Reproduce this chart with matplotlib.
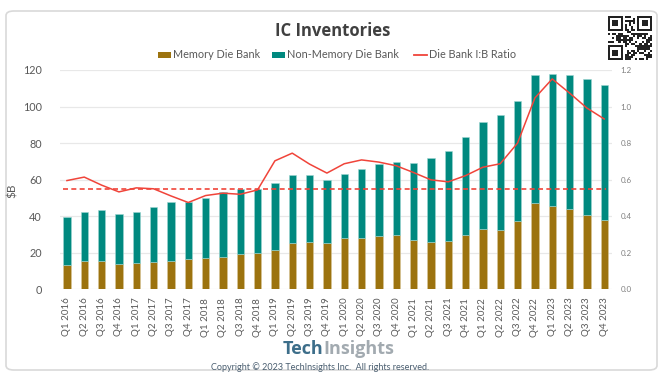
import matplotlib
matplotlib.use("Agg")
import matplotlib.pyplot as plt
from matplotlib.patches import FancyBboxPatch, Rectangle
import numpy as np

plt.rcParams['font.family'] = ['Lato', 'DejaVu Sans']

quarters = [f"Q{q} {y}" for y in range(2016, 2024) for q in range(1, 5)]
memory = [13.1, 15.3, 15.7, 14.0, 14.6, 15.0, 15.7, 16.4, 17.1, 17.9, 19.2, 19.7,
          21.5, 25.5, 26.1, 25.2, 28.1, 28.1, 29.4, 29.8, 27.0, 26.1, 26.6, 29.6,
          32.9, 32.7, 37.3, 47.3, 45.6, 44.0, 40.5, 38.1]
total = [39.8, 42.5, 43.5, 41.3, 42.5, 45.0, 47.6, 47.6, 50.2, 53.5, 55.1, 54.8,
         57.9, 62.8, 62.5, 59.9, 63.0, 65.7, 68.3, 69.9, 69.2, 71.6, 75.9, 83.6,
         91.5, 95.3, 103.0, 117.0, 117.8, 117.0, 115.0, 111.8]
non_memory = [t - m for t, m in zip(total, memory)]
ratio = [0.595, 0.614, 0.570, 0.533, 0.555, 0.550, 0.511, 0.475, 0.513, 0.526, 0.520, 0.544,
         0.703, 0.745, 0.685, 0.636, 0.687, 0.708, 0.696, 0.676, 0.639, 0.599, 0.588, 0.622,
         0.668, 0.687, 0.800, 1.047, 1.151, 1.074, 0.992, 0.932]
ratio_avg = 0.55

C_MEM = "#9C730F"
C_NON = "#00897F"
C_LINE = "#F0443A"
C_TXT = "#595959"

W, H = 663, 378
fig = plt.figure(figsize=(W / 100, H / 100), dpi=100)
fig.patch.set_facecolor("white")

# outer card
card = FancyBboxPatch((6 / W, 1 - 370 / H), 651 / W, 359 / H,
                      boxstyle="round,pad=0,rounding_size=0.012",
                      transform=fig.transFigure, fc="white", ec="#D9D9D9", lw=1.2,
                      zorder=-10)
fig.patches.append(card)

ax = fig.add_axes([60 / W, 1 - 289.3 / H, (612 - 60) / W, (289.3 - 70) / H])
ax.patch.set_alpha(0)
x = np.arange(len(quarters))
bw = 0.42
ax.bar(x, memory, width=bw, color=C_MEM, edgecolor="#D8C89A", linewidth=0.4, zorder=2,
       label="Memory Die Bank")
ax.bar(x, non_memory, width=bw, bottom=memory, color=C_NON, edgecolor="#9FD6D2",
       linewidth=0.4, zorder=2, label="Non-Memory Die Bank")
ax.set_xlim(-0.4, 31.45)
ax.set_ylim(0, 120)
ax.set_yticks(range(0, 121, 20))
ax.grid(axis="y", color="#E8E8E8", lw=0.9, zorder=0)
ax.set_axisbelow(True)
for s in ax.spines.values():
    s.set_visible(False)
ax.tick_params(axis="both", length=0)
ax.tick_params(axis="y", labelsize=7.8, labelcolor=C_TXT, pad=13)
ax.set_xticks(x)
ax.set_xticklabels(quarters, rotation=90, fontsize=7, color=C_TXT)
ax.tick_params(axis="x", pad=6)
ax.set_ylabel("$B", fontsize=8.5, color=C_TXT)
ax.yaxis.set_label_coords(-(60 - 18) / (612 - 60), 0.45)

ax2 = ax.twinx()
ax2.set_ylim(0, 1.2)
ax2.set_yticks(np.arange(0, 1.21, 0.2))
ax2.set_yticklabels([f"{v:.1f}" for v in np.arange(0, 1.21, 0.2)])
ax2.tick_params(axis="y", length=0, labelsize=5.8, labelcolor="#808080", pad=6)
for s in ax2.spines.values():
    s.set_visible(False)
ax2.plot(x, ratio, color=C_LINE, lw=1.1, zorder=3, label="Die Bank I:B Ratio")
ax2.plot([x[0] - 0.2, x[-1] + 0.1], [ratio_avg, ratio_avg], color=C_LINE, lw=1.2,
         ls=(0, (3, 2)), zorder=3)

# title
fig.text(333 / W, 1 - 31 / H, "IC Inventories", ha="center", va="center",
         fontsize=12, fontweight="bold", color="#404040", family="Open Sans")

# legend
ly = 1 - 55 / H
items = [(158, "Memory Die Bank", C_MEM, "patch"),
         (272, "Non-Memory Die Bank", C_NON, "patch"),
         (414, "Die Bank I:B Ratio", C_LINE, "line")]
for lx, lab, col, kind in items:
    if kind == "patch":
        fig.patches.append(Rectangle((lx / W, ly - 3 / H), 13 / W, 6 / H,
                                     transform=fig.transFigure, fc=col, ec="none"))
    else:
        fig.lines.append(plt.Line2D([lx / W, (lx + 13) / W], [ly, ly],
                                    transform=fig.transFigure, color=col, lw=1.3))
    fig.text((lx + 15) / W, ly, lab, ha="left", va="center", fontsize=7.8, color=C_TXT)

# QR-like decoration
qx, qy, qs = 608, 16, 44
qa = fig.add_axes([qx / W, 1 - (qy + qs) / H, qs / W, qs / H])
qa.set_xlim(0, 21)
qa.set_ylim(21, 0)
qa.axis("off")
bits = ("110100101011010011010"
        "011011100101100110101"
        "101010011101010101100"
        "010111010010111011011"
        "110001101101001101110"
        "001110110011010110001"
        "101101001110101011010"
        "011010110100110101101")
k = 0
for r in range(21):
    for c in range(21):
        inf = (r < 8 and c < 8) or (r < 8 and c > 12) or (r > 12 and c < 8)
        if inf:
            continue
        if bits[k % len(bits)] == "1":
            qa.add_patch(Rectangle((c, r), 1, 1, fc="#222222", ec="none"))
        k += 3
for (r0, c0) in [(0, 0), (0, 14), (14, 0)]:
    qa.add_patch(Rectangle((c0, r0), 7, 7, fc="#222222", ec="none"))
    qa.add_patch(Rectangle((c0 + 1, r0 + 1), 5, 5, fc="white", ec="none"))
    qa.add_patch(Rectangle((c0 + 2, r0 + 2), 3, 3, fc="#222222", ec="none"))

# logo and copyright
fig.text(323 / W, 1 - 349 / H, "Tech", ha="right", va="center", fontsize=13,
         fontweight="bold", color="#3D6E8A", family="Open Sans")
fig.text(323 / W, 1 - 349 / H, "Insights", ha="left", va="center", fontsize=13,
         fontweight="bold", color="#A2AAB0", family="Open Sans")
fig.text(320 / W, 1 - 367 / H, "Copyright © 2023 TechInsights Inc.  All rights reserved.",
         ha="center", va="center", fontsize=6.5, color="#4A5E70")

fig.savefig("out.png", dpi=100, facecolor="white")
